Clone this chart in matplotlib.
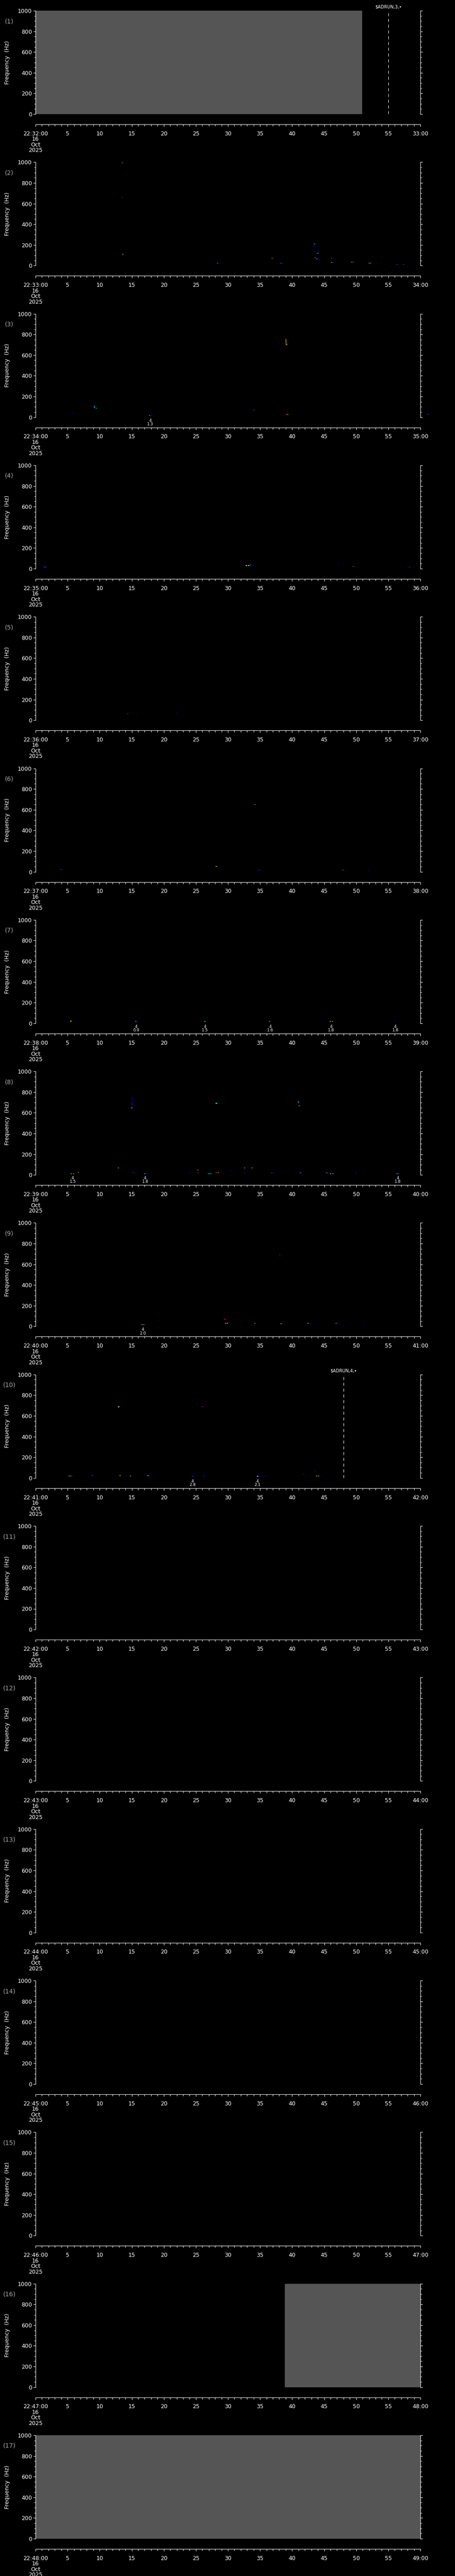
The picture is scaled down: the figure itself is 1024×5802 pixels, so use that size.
import matplotlib
matplotlib.use("Agg")
import matplotlib.pyplot as plt
from matplotlib.ticker import MultipleLocator, FixedLocator, FixedFormatter

# ---------------- data ----------------
panel_ids = list(range(1, 18))
panel_start = ["22:32", "22:33", "22:34", "22:35", "22:36", "22:37", "22:38", "22:39",
               "22:40", "22:41", "22:42", "22:43", "22:44", "22:45", "22:46", "22:47", "22:48"]
panel_end = ["33:00", "34:00", "35:00", "36:00", "37:00", "38:00", "39:00", "40:00",
             "41:00", "42:00", "43:00", "44:00", "45:00", "46:00", "47:00", "48:00", "49:00"]
date_lines = ["16", "Oct", "2025"]
sec_ticks = [0, 5, 10, 15, 20, 25, 30, 35, 40, 45, 50, 55, 60]
freq_ticks = [0, 200, 400, 600, 800, 1000]

# grey "no data" spans (panel, start s, end s)
nodata_panel = [1, 16, 17]
nodata_start = [0.0, 38.9, 0.0]
nodata_end = [50.9, 60.0, 60.0]

# dashed markers
marker_panel = [1, 10]
marker_sec = [55.0, 48.0]
marker_text = ["$ADRUN,3,\u2022", "$ADRUN,4,\u2022"]

# event annotations under panels
ev_panel = [3, 7, 7, 7, 7, 7, 8, 8, 8, 9, 10, 10]
ev_sec = [17.9, 15.7, 26.4, 36.6, 46.1, 56.1, 5.8, 17.1, 56.5, 16.7, 24.5, 34.6]
ev_code = ["4", "4", "4", "4", "4", "4", "4", "4", "4", "4", "4", "4"]
ev_mag = ["1.3", "0.9", "1.5", "1.6", "1.8", "1.8", "1.5", "1.8", "1.8", "2.0", "2.8", "2.1"]

# vertical streaks (panel, time, f0, f1, colour value)
streak_panel = [3, 8]
streak_sec = [39.0, 15.05]
streak_f0 = [704, 646]
streak_f1 = [759, 756]
streak_v = [0.5, 0.05]

# spectrogram blips: time (s), frequency (Hz), intensity (0..1 jet)
blip_t_02 = [13.56, 13.50, 13.60, 28.4, 28.7, 36.9, 38.3, 38.5, 43.4, 43.45, 43.6, 43.8, 44.0, 44.2,
             43.6, 43.9, 44.2, 46.2, 46.2, 46.5, 49.3, 49.6, 52.0, 52.2, 56.4, 57.4]
blip_f_02 = [994, 661, 111, 26, 26, 71, 26, 26, 190, 210, 135, 118, 120, 140,
             75, 62, 64, 71, 28, 28, 35, 32, 26, 26, 13, 13]
blip_v_02 = [0.8, 0.95, 0.5, 0.8, 0.1, 0.75, 0.85, 0.1, 0.1, 0.35, 0.1, 0.1, 0.5, 0.1,
             0.35, 0.35, 0.1, 0.85, 0.5, 0.1, 0.35, 0.85, 0.8, 0.35, 0.2, 0.2]

blip_t_03 = [5.8, 9.15, 9.2, 9.45, 17.8, 18.1, 34.0, 34.2, 39.1, 39.2, 39.1, 39.3, 61.2]
blip_f_03 = [39, 108, 97, 86, 17, 17, 69, 69, 711, 701, 26, 26, 26]
blip_v_03 = [0.1, 0.3, 0.3, 0.35, 0.4, 0.15, 0.9, 0.1, 0.9, 0.5, 0.85, 0.75, 0.2]

blip_t_04 = [1.3, 1.5, 32.9, 33.2, 33.5, 33.9, 47.3, 49.6, 58.3]
blip_f_04 = [17, 17, 30, 30, 36, 33, 52, 22, 17]
blip_v_04 = [0.1, 0.2, 0.65, 0.4, 0.35, 0.15, 0.1, 0.3, 0.15]

blip_t_05 = [14.4, 21.9]
blip_f_05 = [64, 66]
blip_v_05 = [0.9, 0.1]

blip_t_06 = [3.9, 4.1, 28.2, 34.2, 34.6, 34.9, 47.9, 51.9]
blip_f_06 = [22, 22, 52, 647, 17, 15, 19, 19]
blip_v_06 = [0.9, 0.1, 0.65, 0.75, 0.1, 0.15, 0.8, 0.1]

blip_t_07 = [5.5, 15.6, 15.9, 26.4, 36.5, 46.0, 46.3, 56.1]
blip_f_07 = [21, 17, 17, 17, 17, 17, 17, 17]
blip_v_07 = [0.7, 0.4, 0.1, 0.4, 0.4, 0.65, 0.4, 0.1]

blip_t_08 = [5.6, 5.9, 6.7, 12.9, 15.0, 15.0, 15.2, 15.5, 17.0, 17.3, 24.0, 25.3, 25.3, 27.0, 27.3,
             28.2, 28.5, 28.2, 30.3, 32.6, 32.6, 33.8, 36.8, 37.1, 41.0, 41.0, 41.1, 41.3,
             45.4, 45.7, 46.0, 46.4, 50.0, 56.4, 56.7]
blip_f_08 = [11, 11, 23, 67, 684, 646, 20, 20, 11, 11, 20, 46, 20, 13, 11,
             20, 20, 692, 43, 67, 20, 67, 20, 20, 707, 697, 667, 20,
             20, 20, 13, 11, 20, 11, 11]
blip_v_08 = [0.5, 0.5, 0.75, 0.4, 0.9, 0.65, 0.9, 0.1, 0.4, 0.1, 0.1, 0.75, 0.9, 0.4, 0.35,
             0.85, 0.75, 0.35, 0.1, 0.35, 0.1, 0.4, 0.9, 0.1, 0.35, 0.3, 0.4, 0.35,
             0.75, 0.1, 0.5, 0.5, 0.15, 0.35, 0.1]

blip_t_09 = [16.6, 16.9, 29.5, 29.6, 29.9, 30.0, 34.2, 38.1, 38.3, 42.5, 42.8, 46.9, 47.2, 51.3]
blip_f_09 = [17, 17, 71, 30, 30, 33, 30, 686, 26, 30, 30, 30, 30, 30]
blip_v_09 = [0.35, 0.4, 0.9, 0.65, 0.65, 0.15, 0.35, 0.95, 0.65, 0.65, 0.15, 0.75, 0.15, 0.1]

blip_t_10 = [5.2, 5.5, 8.9, 9.0, 12.9, 13.0, 13.1, 13.2, 14.8, 17.5, 17.6, 24.5, 26.0, 26.1, 26.3,
             34.6, 34.8, 41.8, 43.6, 43.8, 44.1, 44.3]
blip_f_10 = [19, 17, 23, 21, 684, 690, 23, 21, 19, 23, 21, 16, 690, 687, 19,
             16, 16, 37, 67, 20, 20, 20]
blip_v_10 = [0.45, 0.35, 0.4, 0.15, 0.75, 0.35, 0.9, 0.7, 0.4, 0.5, 0.35, 0.15, 0.1, 0.9, 0.15,
             0.35, 0.15, 0.15, 0.1, 0.55, 0.4, 0.1]

blip_panels = {2: (blip_t_02, blip_f_02, blip_v_02), 3: (blip_t_03, blip_f_03, blip_v_03),
               4: (blip_t_04, blip_f_04, blip_v_04), 5: (blip_t_05, blip_f_05, blip_v_05),
               6: (blip_t_06, blip_f_06, blip_v_06), 7: (blip_t_07, blip_f_07, blip_v_07),
               8: (blip_t_08, blip_f_08, blip_v_08), 9: (blip_t_09, blip_f_09, blip_v_09),
               10: (blip_t_10, blip_f_10, blip_v_10)}

# ---------------- layout ----------------
W, H = 1024, 5802
fig = plt.figure(figsize=(W / 100, H / 100), dpi=100, facecolor="black")
plt.rcParams["font.family"] = ["DejaVu Sans"]
top0, pitch, ph = 24.0, 341.31, 233.0
left, width = 80.0, 866.0
px = 0.72  # points per pixel
jet = matplotlib.colormaps["jet"]
fg = "white"
blip_marker = [(-1.6, -0.6), (1.6, -0.6), (1.6, 0.6), (-1.6, 0.6), (-1.6, -0.6)]

for i, pid in enumerate(panel_ids):
    top = top0 + i * pitch
    ax = fig.add_axes([left / W, 1 - (top + ph) / H, width / W, ph / H])
    ax.set_facecolor("black")
    ax.set_xlim(0, 60)
    ax.set_ylim(0, 1000)
    ax.spines["top"].set_visible(False)
    for s in ["left", "right", "bottom"]:
        ax.spines[s].set_color(fg)
        ax.spines[s].set_linewidth(1.0 * px)
    ax.spines["bottom"].set_position(("outward", 23 * px))

    # y axis
    ax.yaxis.set_major_locator(FixedLocator(freq_ticks))
    ax.yaxis.set_minor_locator(MultipleLocator(50))
    ax.tick_params(axis="y", which="both", direction="out", left=True, right=True,
                   labelleft=True, labelright=False, colors=fg, width=1.0 * px)
    ax.tick_params(axis="y", which="major", length=5 * px, pad=3 * px, labelsize=9)
    ax.tick_params(axis="y", which="minor", length=3 * px)
    ax.set_ylabel("Frequency  (Hz)", color=fg, fontsize=9)
    ax.yaxis.set_label_coords((23 - left) / width, 0.5)

    # x (time) axis
    labels = ["%s:00\n%s" % (panel_start[i], "\n".join(date_lines))]
    labels += [str(s) for s in sec_ticks[1:-1]] + [panel_end[i]]
    ax.xaxis.set_major_locator(FixedLocator(sec_ticks))
    ax.xaxis.set_major_formatter(FixedFormatter(labels))
    ax.xaxis.set_minor_locator(MultipleLocator(1))
    ax.tick_params(axis="x", which="both", direction="out", colors=fg, width=1.0 * px)
    ax.tick_params(axis="x", which="major", length=5 * px, pad=7, labelsize=9)
    ax.tick_params(axis="x", which="minor", length=4 * px)
    for lab in ax.get_xticklabels():
        lab.set_linespacing(0.95)

    # panel label
    ax.text((21 - left) / width, 1 - 24 / ph, "(%d)" % pid, transform=ax.transAxes,
            color="#a8a8a8", fontsize=10, ha="center", va="center")

    # no-data spans
    for p, s0, s1 in zip(nodata_panel, nodata_start, nodata_end):
        if p == pid:
            ax.fill_between([s0, s1], 0, 1000, color="#555555", linewidth=0, zorder=0.5)

    # blips
    if pid in blip_panels:
        t, f, v = blip_panels[pid]
        ax.scatter(t, f, c=[jet(x) for x in v], marker=blip_marker, s=5, linewidths=0,
                   zorder=3, clip_on=False)

    # streaks
    for p, t, f0, f1, v in zip(streak_panel, streak_sec, streak_f0, streak_f1, streak_v):
        if p == pid:
            ax.vlines(t, f0, f1, colors=[jet(v)], linewidth=0.8, zorder=2.5)

    # dashed markers
    for p, t, txt in zip(marker_panel, marker_sec, marker_text):
        if p == pid:
            ax.axvline(t, ymin=0, ymax=0.99, color=fg, linewidth=1.0 * px,
                       linestyle=(0, (7, 6)), zorder=4)
            ax.annotate(txt, xy=(t, 1000), xytext=(0, 8 * px), textcoords="offset points",
                        ha="center", va="center", color=fg, fontsize=7)

    # event annotations
    for p, t, c, m in zip(ev_panel, ev_sec, ev_code, ev_mag):
        if p == pid:
            ax.annotate("%s\n%s" % (c, m), xy=(t, 0), xytext=(0, -3 * px),
                        textcoords="offset points", ha="center", va="top",
                        color=fg, fontsize=6.5, linespacing=0.9, annotation_clip=False)

fig.savefig("out.png", dpi=100, facecolor="black")
